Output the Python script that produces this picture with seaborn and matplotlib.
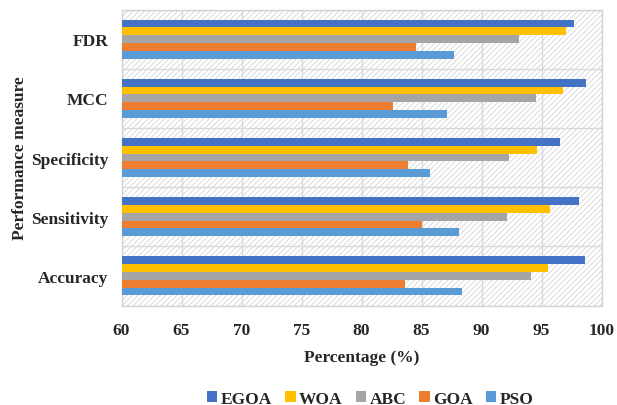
import matplotlib
matplotlib.use("Agg")
import matplotlib.pyplot as plt
import seaborn as sns
import pandas as pd
import numpy as np
from matplotlib.patches import Rectangle

measures = ["FDR", "MCC", "Specificity", "Sensitivity", "Accuracy"]
algorithms = ["EGOA", "WOA", "ABC", "GOA", "PSO"]
egoa = [97.7, 98.7, 96.5, 98.1, 98.6]
woa = [97.0, 96.8, 94.6, 95.7, 95.5]
abc = [93.1, 94.5, 92.3, 92.1, 94.1]
goa = [84.5, 82.6, 83.9, 85.0, 83.6]
pso = [87.7, 87.1, 85.7, 88.1, 88.4]
colors = ["#4472C4", "#FFC000", "#A5A5A5", "#ED7D31", "#5B9BD5"]
xticks = [60, 65, 70, 75, 80, 85, 90, 95, 100]

series = {"EGOA": egoa, "WOA": woa, "ABC": abc, "GOA": goa, "PSO": pso}
rows = []
for alg in algorithms:
    for m, v in zip(measures, series[alg]):
        rows.append({"Measure": m, "Algorithm": alg, "Value": v})
df = pd.DataFrame(rows)

sns.set_style("white")
plt.rcParams["font.family"] = ["Liberation Serif", "DejaVu Serif"]
plt.rcParams["hatch.linewidth"] = 0.6
plt.rcParams["hatch.color"] = "#d4d4d4"

fig = plt.figure(figsize=(6.17, 4.06), dpi=100)
ax = fig.add_axes([0.197, 0.245, 0.778, 0.729])

bg = Rectangle((0, 0), 1, 1, transform=ax.transAxes, facecolor="white",
               edgecolor="#d4d4d4", hatch="//////", linewidth=0, zorder=0)
ax.add_patch(bg)

sns.barplot(data=df, y="Measure", x="Value", hue="Algorithm", order=measures,
            hue_order=algorithms, palette=colors, orient="h", width=0.66,
            saturation=1, ax=ax, zorder=3, legend=True, linewidth=0)

ax.set_xlim(60, 100)
ax.set_ylim(4.5, -0.5)
ax.set_xticks(xticks)
ax.set_xticklabels([str(t) for t in xticks], fontsize=12.5, fontweight="bold")
ax.set_yticks(range(len(measures)))
ax.set_yticklabels(measures, fontsize=12.5, fontweight="bold")
ax.tick_params(axis="y", length=0, pad=9.5)
ax.tick_params(axis="x", length=0, pad=12)
ax.set_yticks(np.arange(-0.5, 5.0, 1.0), minor=True)
ax.tick_params(axis="y", which="minor", length=5, color="#d4d4d4", width=1)
ax.grid(axis="x", color="#d9d9d9", linewidth=1, zorder=1)
ax.grid(axis="y", which="minor", color="#d9d9d9", linewidth=1, zorder=1)
ax.grid(axis="y", which="major", visible=False)
ax.set_axisbelow(True)
for s in ax.spines.values():
    s.set_color("#d4d4d4")
    s.set_linewidth(1)

ax.set_xlabel("Percentage (%)", fontsize=12.5, fontweight="bold", labelpad=8)
ax.set_ylabel("Performance measure", fontsize=12.5, fontweight="bold")
ax.yaxis.set_label_coords(-0.195, 0.5)

handles, labels = ax.get_legend_handles_labels()
ax.get_legend().remove()
fig.legend(handles, labels, loc="center", bbox_to_anchor=(0.6, 0.016), ncol=5,
           frameon=False, prop={"weight": "bold", "size": 12.5},
           handlelength=0.6, handleheight=0.6, handletextpad=0.2,
           columnspacing=0.75, borderpad=0)

fig.savefig("out.png", dpi=100)
